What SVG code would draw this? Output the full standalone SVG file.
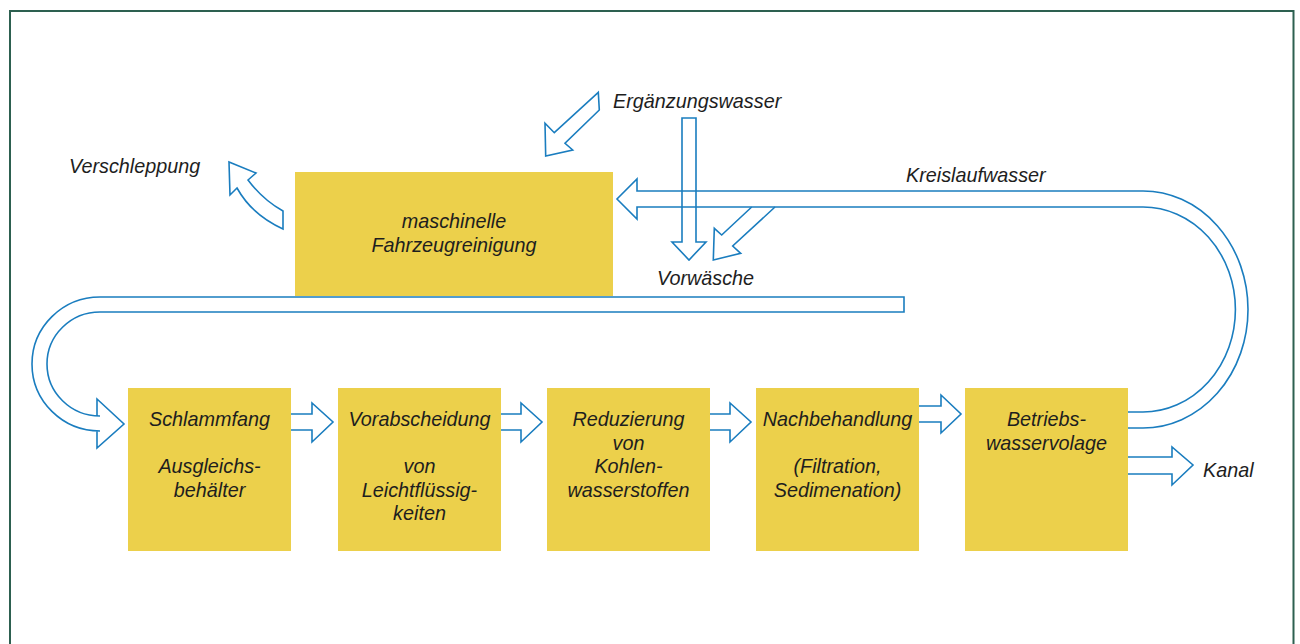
<svg xmlns="http://www.w3.org/2000/svg" width="1300" height="644" viewBox="0 0 1300 644">
<style>
.box{fill:#ecd04b;stroke:none}
.t{font-family:"Liberation Sans",Arial,sans-serif;font-style:italic;font-size:19.8px;fill:#1e1e1e}
.m{text-anchor:middle}
.c{fill:none;stroke:#1a7dbf;stroke-width:1.6;stroke-linejoin:miter}
.frame{fill:none;stroke:#2d6050;stroke-width:2}
</style>
<rect width="1300" height="644" fill="#ffffff"/>
<path class="frame" d="M10,650 V11 H1293.5 V650"/>

<g id="node-reinigung">
<rect class="box" x="295" y="172" width="318" height="124"/>
<text class="t m" x="454" y="228">maschinelle</text>
<text class="t m" x="454" y="252">Fahrzeugreinigung</text>
</g>
<g id="node-schlammfang">
<rect class="box" x="128" y="388" width="163" height="163"/>
<text class="t m" x="209.5" y="426">Schlammfang</text>
<text class="t m" x="209.5" y="473">Ausgleichs-</text>
<text class="t m" x="209.5" y="497">behälter</text>
</g>
<g id="node-vorabscheidung">
<rect class="box" x="338" y="388" width="163" height="163"/>
<text class="t m" x="419.5" y="426">Vorabscheidung</text>
<text class="t m" x="419.5" y="473">von</text>
<text class="t m" x="419.5" y="497">Leichtflüssig-</text>
<text class="t m" x="419.5" y="520">keiten</text>
</g>
<g id="node-reduzierung">
<rect class="box" x="547" y="388" width="163" height="163"/>
<text class="t m" x="628.5" y="426">Reduzierung</text>
<text class="t m" x="628.5" y="450">von</text>
<text class="t m" x="628.5" y="473">Kohlen-</text>
<text class="t m" x="628.5" y="497">wasserstoffen</text>
</g>
<g id="node-nachbehandlung">
<rect class="box" x="756" y="388" width="163" height="163"/>
<text class="t m" x="837.5" y="426">Nachbehandlung</text>
<text class="t m" x="837.5" y="473">(Filtration,</text>
<text class="t m" x="837.5" y="497">Sedimenation)</text>
</g>
<g id="node-betriebswasser">
<rect class="box" x="965" y="388" width="163" height="163"/>
<text class="t m" x="1046.5" y="426">Betriebs-</text>
<text class="t m" x="1046.5" y="450">wasservolage</text>
</g>

<g id="labels">
<text class="t" x="613" y="108">Ergänzungswasser</text>
<text class="t" x="69" y="173">Verschleppung</text>
<text class="t" x="906" y="182">Kreislaufwasser</text>
<text class="t" x="657" y="285">Vorwäsche</text>
<text class="t" x="1203" y="477">Kanal</text>
</g>

<g id="connectors">
<path class="c" d="M598.3,92.3 L554.3,132.7 L545,123.3 L545.7,156 L572.7,150 L565,143.3 L599.3,110 Z"/>
<path class="c" d="M682,118 H696 V242 H706 L689,260 L672,242 H682 Z"/>
<path class="c" d="M229,162 L230,195 L237,188 Q252,215 283,229 L283,211 Q263,200 248,180 L256,173 Z"/>
<path class="c" d="M1128,428 H1143 A105,118.5 0 0 0 1143,191 H637 V179 L617,199 L637,219 V207 H1143 A92,102 0 0 1 1143,412 H1128"/>
<path class="c" d="M751.7,207 L721.7,235 L714.3,228.3 L713.3,260 L740.7,253.3 L732.7,246 L775,207"/>
<path class="c" d="M904,297 H100 A68,67 0 0 0 100,431 H97 V448 L124,424 L97,399 V416 H100 A53,52 0 0 1 100,312 H904 Z"/>
<path class="c" d="M291,414 H312 V403 L333,422 L312,442 V430 H291"/>
<path class="c" d="M501,414 H521 V403 L542,422 L521,442 V430 H501"/>
<path class="c" d="M710,414 H730 V403 L751,422 L730,442 V430 H710"/>
<path class="c" d="M919,406 H941 V395 L961,414 L941,433 V422 H919"/>
<path class="c" d="M1128,457 H1172 V447 L1193,465 L1172,485 V474 H1128"/>
</g>
</svg>
